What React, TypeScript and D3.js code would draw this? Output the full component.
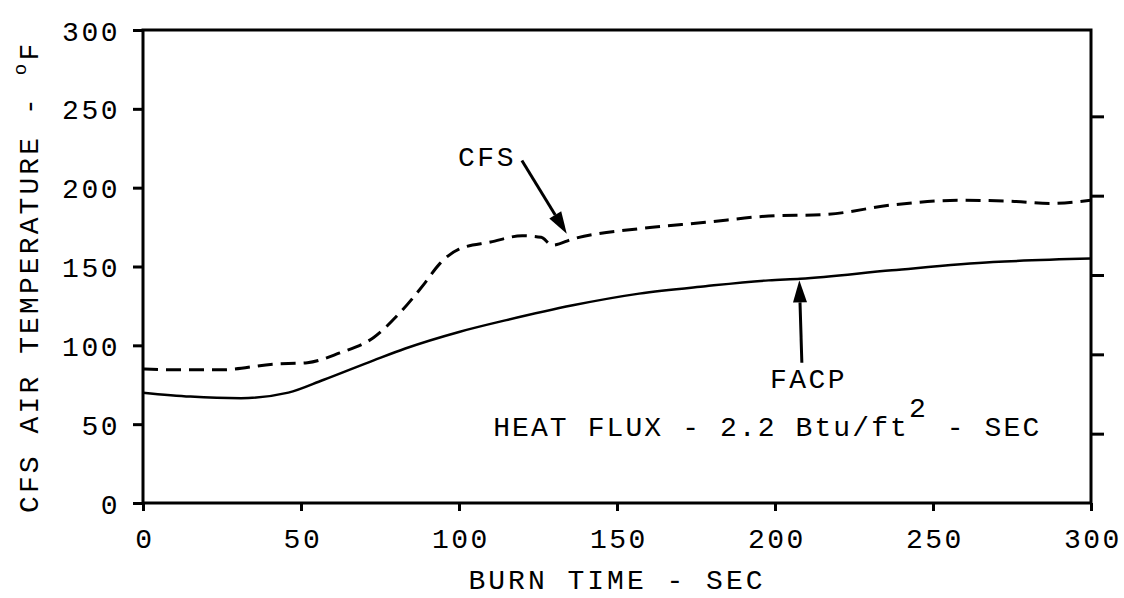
import React, { useEffect, useRef } from "react";
import * as d3 from "d3";

const xTicks = [0, 50, 100, 150, 200, 250, 300];
const yTicks = [0, 50, 100, 150, 200, 250, 300];
const rightTicks = [50, 100, 150, 200, 250];

const cfsTime = [0, 10, 25, 41, 52, 62, 73, 81, 89, 94, 100, 110, 120, 126, 129.5, 136, 157, 178, 198, 216, 237, 258, 274, 287, 300];
const cfsTemp = [85, 84.5, 84.5, 88, 89, 95, 105, 120, 139, 152, 161, 165.5, 169.5, 168.5, 163.5, 167.5, 174, 178, 182, 183, 189, 192, 191.5, 190, 192];

const facpTime = [0, 15, 31, 46, 57, 73, 83, 100, 115, 136, 157, 178, 198, 208, 237, 269, 300];
const facpTemp = [70, 67.5, 66.5, 70, 78, 90.5, 98, 108.5, 116, 125.4, 132.8, 137.5, 141.2, 142.3, 147.6, 152.8, 155];

const FONT = "'Liberation Mono', 'DejaVu Sans Mono', monospace";
const FS = 28;
const LS = 2.5;

export default function App() {
  const ref = useRef<SVGSVGElement>(null);

  useEffect(() => {
    const svg = d3.select(ref.current);
    svg.selectAll("*").remove();

    const x = d3.scaleLinear().domain([0, 300]).range([143, 1091]);
    const y = d3.scaleLinear().domain([0, 300]).range([503, 30]);
    const yRight = d3.scaleLinear().domain([0, 300]).range([513, 37]);

    const g = svg.append("g");

    // frame
    g.append("rect")
      .attr("x", x(0)).attr("y", y(300))
      .attr("width", x(300) - x(0)).attr("height", y(0) - y(300))
      .attr("fill", "none").attr("stroke", "#000").attr("stroke-width", 3);

    const styleAxis = (sel: any) => {
      sel.select(".domain").remove();
      sel.selectAll(".tick line").attr("stroke", "#000").attr("stroke-width", 3);
      sel.selectAll(".tick text")
        .attr("font-family", FONT).attr("font-size", FS)
        .attr("letter-spacing", LS).attr("fill", "#000");
    };

    // left axis
    g.append("g").attr("transform", `translate(${x(0)},0)`)
      .call(d3.axisLeft(y).tickValues(yTicks).tickSize(10).tickPadding(13).tickFormat(d3.format("d")))
      .call(styleAxis)
      .selectAll(".tick text").attr("dy", "0.36em");

    // bottom axis
    g.append("g").attr("transform", `translate(0,${y(0)})`)
      .call(d3.axisBottom(x).tickValues(xTicks).tickSize(8).tickPadding(17).tickFormat(d3.format("d")))
      .call(styleAxis)
      .selectAll(".tick text").attr("dx", "0.05em");

    // right axis ticks
    g.append("g").attr("transform", `translate(${x(300)},0)`)
      .call(d3.axisRight(yRight).tickValues(rightTicks).tickSize(13).tickFormat(() => ""))
      .call(styleAxis);

    const lineGen = d3.line<[number, number]>()
      .x((d) => x(d[0])).y((d) => y(d[1]))
      .curve(d3.curveMonotoneX);

    const cfs = cfsTime.map((t, i) => [t, cfsTemp[i]] as [number, number]);
    const facp = facpTime.map((t, i) => [t, facpTemp[i]] as [number, number]);

    g.append("path").attr("d", lineGen(facp)!)
      .attr("fill", "none").attr("stroke", "#000").attr("stroke-width", 2.5);

    g.append("path").attr("d", lineGen(cfs)!)
      .attr("fill", "none").attr("stroke", "#000").attr("stroke-width", 3)
      .attr("stroke-dasharray", "15,8");

    const arrow = (t0: number, v0: number, t1: number, v1: number) => {
      const x0 = x(t0), y0 = y(v0), x1 = x(t1), y1 = y(v1);
      const ang = Math.atan2(y1 - y0, x1 - x0);
      const L = 22, W = 7;
      const bx = x1 - L * Math.cos(ang), by = y1 - L * Math.sin(ang);
      g.append("line").attr("x1", x0).attr("y1", y0).attr("x2", bx).attr("y2", by)
        .attr("stroke", "#000").attr("stroke-width", 3);
      const px = -Math.sin(ang), py = Math.cos(ang);
      g.append("polygon")
        .attr("points", [[x1, y1], [bx + W * px, by + W * py], [bx - W * px, by - W * py]].map((p) => p.join(",")).join(" "))
        .attr("fill", "#000");
    };

    const label = (t: number, v: number, text: string) =>
      g.append("text").attr("x", x(t)).attr("y", y(v))
        .attr("font-family", FONT).attr("font-size", FS).attr("letter-spacing", LS)
        .attr("fill", "#000").text(text);

    label(99.7, 214, "CFS");
    arrow(119.9, 217.2, 134.1, 170.8);

    label(198.4, 72.7, "FACP");
    arrow(208.5, 89, 207.7, 141.2);

    const hf = label(110.8, 42.3, "").attr("letter-spacing", 2.1);
    hf.append("tspan").text("HEAT FLUX - 2.2 Btu/ft");
    hf.append("tspan").attr("dy", -19).text("2");
    hf.append("tspan").attr("dy", 19).text(" - SEC");

    // axis titles
    g.append("text").attr("x", 617).attr("y", 589).attr("text-anchor", "middle")
      .attr("font-family", FONT).attr("font-size", FS).attr("letter-spacing", LS + 0.5)
      .attr("fill", "#000").text("BURN TIME - SEC");

    const yt = g.append("text").attr("transform", "translate(38,513) rotate(-90)")
      .attr("font-family", FONT).attr("font-size", FS).attr("letter-spacing", LS + 0.6)
      .attr("fill", "#000");
    yt.append("tspan").text("CFS AIR TEMPERATURE - ");
    yt.append("tspan").attr("font-size", 19).attr("dy", -12).text("o");
    yt.append("tspan").attr("dy", 12).text("F");
  }, []);

  return (
    <svg ref={ref} width={1124} height={598}
      style={{ position: "absolute", left: 0, top: 0, background: "#fff" }} />
  );
}
